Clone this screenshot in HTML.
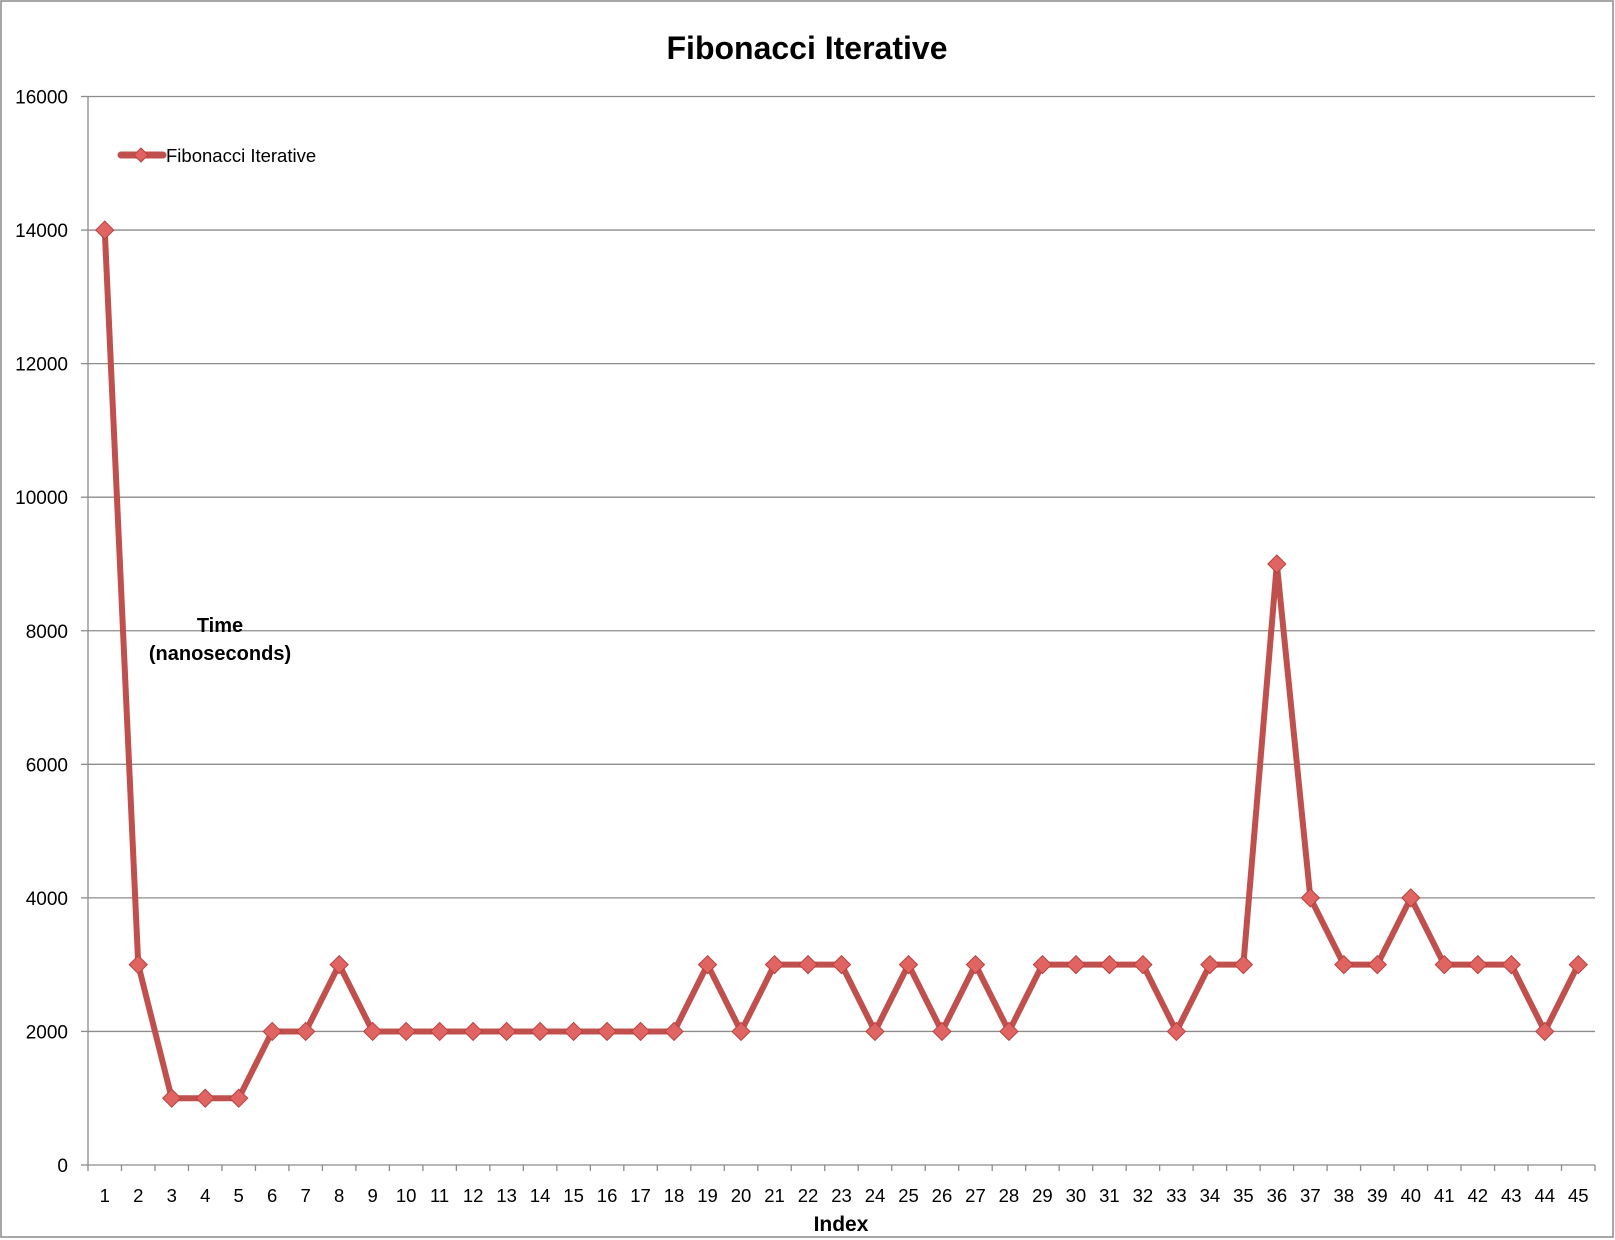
<!DOCTYPE html>
<html><head><meta charset="utf-8"><style>
html,body{margin:0;padding:0;background:#fff}
svg{display:block;font-family:"Liberation Sans",sans-serif}
</style></head><body>
<svg id="chart" width="1615" height="1240">
<rect x="1" y="1" width="1612" height="1236" fill="#fff" stroke="#8a8a8a" stroke-width="1.5"/>
<text x="807" y="59" text-anchor="middle" font-size="32" font-weight="bold">Fibonacci Iterative</text>
<g id="grid"></g><g id="axes"></g><g id="series"></g>
<text x="220" y="632" text-anchor="middle" font-size="20" font-weight="bold"><tspan x="220">Time</tspan><tspan x="220" dy="28">(nanoseconds)</tspan></text>
<text x="841" y="1231" text-anchor="middle" font-size="21" font-weight="bold">Index</text>
<g>
<line x1="121" y1="155" x2="163" y2="155" stroke="#c0504d" stroke-width="7" stroke-linecap="round"/>
<path d="M141,148 L148,155 L141,162 L134,155Z" fill="#e06462" stroke="#b8413e"/>
<text x="166" y="162" font-size="18.5">Fibonacci Iterative</text>
</g>
</svg>
<script>
const categories=[];for(let i=1;i<=45;i++)categories.push(String(i));
const values=[14000,3000,1000,1000,1000,2000,2000,3000,2000,2000,2000,2000,2000,2000,2000,2000,2000,2000,3000,2000,3000,3000,3000,2000,3000,2000,3000,2000,3000,3000,3000,3000,2000,3000,3000,9000,4000,3000,3000,4000,3000,3000,3000,2000,3000];
const yTicks=[0,2000,4000,6000,8000,10000,12000,14000,16000];
const NS="http://www.w3.org/2000/svg";
const L=88,R=1595,T=96.5,B=1165,YMAX=16000;
const bw=(R-L)/categories.length;
function xs(i){return L+bw*(i+0.5);}
function ys(v){return B-(v/YMAX)*(B-T);}
function mk(tag,attrs,parent){const e=document.createElementNS(NS,tag);for(const k in attrs)e.setAttribute(k,attrs[k]);parent.appendChild(e);return e;}
const grid=document.getElementById('grid'),axes=document.getElementById('axes'),ser=document.getElementById('series');
yTicks.forEach(v=>{
 if(v>0){const g=mk('line',{x1:L,x2:R,y1:ys(v),y2:ys(v),stroke:'#8c8c8c','stroke-width':1.3},grid);
 
 }
 const tk=mk('line',{x1:L-7,x2:L,y1:ys(v),y2:ys(v),stroke:'#8c8c8c','stroke-width':1.3},axes);
 
 
 const t=mk('text',{x:68,y:ys(v)+7,'text-anchor':'end','font-size':19},axes);t.textContent=v;
 
 
});
const ya=mk('line',{x1:L,x2:L,y1:T,y2:B,stroke:'#8c8c8c','stroke-width':1.3},axes);


const xa=mk('line',{x1:L,x2:R,y1:B,y2:B,stroke:'#8c8c8c','stroke-width':1.3},axes);


for(let i=0;i<=categories.length;i++){
 const tk=mk('line',{x1:L+bw*i,x2:L+bw*i,y1:B,y2:B+6,stroke:'#8c8c8c','stroke-width':1.3},axes);
 
 
}
categories.forEach((c,i)=>{
 const t=mk('text',{x:xs(i),y:1202,'text-anchor':'middle','font-size':18.5},axes);t.textContent=c;
 
 
});
const pts=values.map((v,i)=>xs(i)+','+ys(v)).join(' ');
const pl=mk('polyline',{points:pts,fill:'none',stroke:'#c0504d','stroke-width':6,'stroke-linejoin':'round','stroke-linecap':'round'},ser);


values.forEach((v,i)=>{
 const x=xs(i),y=ys(v),r=9;
 const p=mk('path',{d:`M${x},${y-r} L${x+r},${y} L${x},${y+r} L${x-r},${y}Z`,fill:'#e06462',stroke:'#b8413e','stroke-width':1},ser);
 
 
});
</script>
</body></html>
